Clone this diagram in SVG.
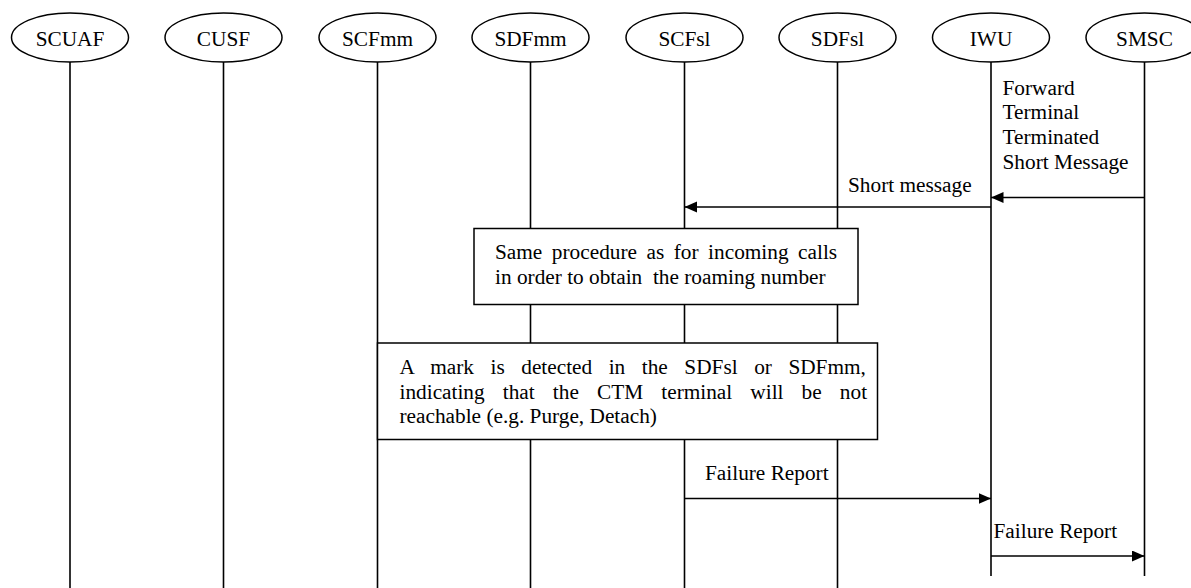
<svg xmlns="http://www.w3.org/2000/svg" width="1191" height="588" viewBox="0 0 1191 588">
  <style>
    text { font-family: "Liberation Serif", "Times New Roman", serif; font-size: 21.3px; fill: #000; }
    .entity ellipse { fill: #fff; stroke: #000; stroke-width: 1.5; }
    .entity text { text-anchor: middle; }
    .lifeline { stroke: #000; stroke-width: 1.6; fill: none; }
    .box rect { fill: #fff; stroke: #000; stroke-width: 1.5; }
    .msg { stroke: #000; stroke-width: 1.6; fill: none; marker-end: url(#arrow); }
  </style>
  <defs>
    <marker id="arrow" markerUnits="userSpaceOnUse" markerWidth="13" markerHeight="12" refX="12.5" refY="5.5" orient="auto">
      <path d="M0,0 L12.5,5.5 L0,11 z" fill="#000"/>
    </marker>
  </defs>
  <rect width="1191" height="588" fill="#fff"/>

  <!-- lifelines -->
  <g id="lifelines">
    <line class="lifeline" x1="70" y1="62" x2="70" y2="588"/>
    <line class="lifeline" x1="223.5" y1="62" x2="223.5" y2="588"/>
    <line class="lifeline" x1="377.5" y1="62" x2="377.5" y2="588"/>
    <line class="lifeline" x1="530.5" y1="62" x2="530.5" y2="588"/>
    <line class="lifeline" x1="684.5" y1="62" x2="684.5" y2="588"/>
    <line class="lifeline" x1="837.5" y1="62" x2="837.5" y2="588"/>
    <line class="lifeline" x1="991" y1="62" x2="991" y2="576"/>
    <line class="lifeline" x1="1144.5" y1="62" x2="1144.5" y2="576"/>
  </g>

  <!-- entities -->
  <g id="SCUAF" class="entity"><ellipse cx="70" cy="37.5" rx="58.5" ry="24.5"/><text x="70" y="46">SCUAF</text></g>
  <g id="CUSF" class="entity"><ellipse cx="223.5" cy="37.5" rx="58.5" ry="24.5"/><text x="223.5" y="46">CUSF</text></g>
  <g id="SCFmm" class="entity"><ellipse cx="377.5" cy="37.5" rx="58.5" ry="24.5"/><text x="377.5" y="46">SCFmm</text></g>
  <g id="SDFmm" class="entity"><ellipse cx="530.5" cy="37.5" rx="58.5" ry="24.5"/><text x="530.5" y="46">SDFmm</text></g>
  <g id="SCFsl" class="entity"><ellipse cx="684.5" cy="37.5" rx="58.5" ry="24.5"/><text x="684.5" y="46">SCFsl</text></g>
  <g id="SDFsl" class="entity"><ellipse cx="837.5" cy="37.5" rx="58.5" ry="24.5"/><text x="837.5" y="46">SDFsl</text></g>
  <g id="IWU" class="entity"><ellipse cx="991" cy="37.5" rx="58.5" ry="24.5"/><text x="991" y="46">IWU</text></g>
  <g id="SMSC" class="entity"><ellipse cx="1144.5" cy="37.5" rx="58.5" ry="24.5"/><text x="1144.5" y="46">SMSC</text></g>

  <!-- procedure boxes -->
  <g id="roaming-number" class="box">
    <rect x="474" y="228.5" width="384" height="76"/>
    <text x="495" y="258.5" style="word-spacing:4.2px">Same procedure as for incoming calls</text>
    <text x="495" y="283.5" xml:space="preserve">in order to obtain  the roaming number</text>
  </g>
  <g id="mark-detected" class="box">
    <rect x="377.5" y="343" width="500" height="96.5"/>
    <text x="399.5" y="373.5" style="word-spacing:11.2px">A mark is detected in the SDFsl or SDFmm,</text>
    <text x="399.5" y="398.5" style="word-spacing:12.8px">indicating that the CTM terminal will be not</text>
    <text x="399.5" y="423">reachable (e.g. Purge, Detach)</text>
  </g>

  <!-- messages -->
  <g id="connectors">
    <line class="msg" x1="1144.5" y1="197.5" x2="991" y2="197.5"/>
    <text x="1002.5" y="94.5">Forward</text>
    <text x="1002.5" y="119">Terminal</text>
    <text x="1002.5" y="144">Terminated</text>
    <text x="1002.5" y="168.5">Short Message</text>

    <line class="msg" x1="991" y1="207" x2="684.5" y2="207"/>
    <text x="848" y="191.5">Short message</text>

    <line class="msg" x1="684.5" y1="498.5" x2="991" y2="498.5"/>
    <text x="705" y="480">Failure Report</text>

    <line class="msg" x1="991" y1="556" x2="1144.5" y2="556"/>
    <text x="993.5" y="537.5">Failure Report</text>
  </g>
</svg>
